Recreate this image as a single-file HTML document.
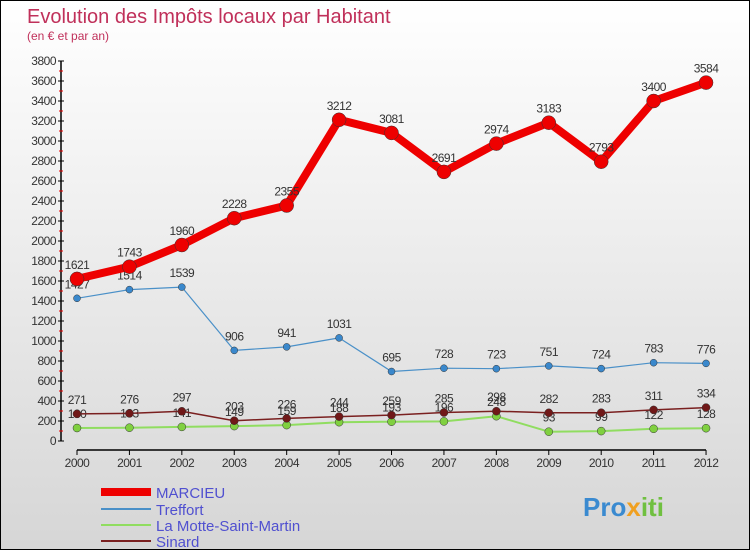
<!DOCTYPE html>
<html><head><meta charset="utf-8"><style>
body{margin:0}
#c{width:748px;height:548px;border:1px solid #000;background:linear-gradient(#fff,#d6d6d6);position:relative;font-family:"Liberation Sans",sans-serif;overflow:hidden}
</style></head><body>
<div id="c">
<svg id="s" width="748" height="548" xmlns="http://www.w3.org/2000/svg">
<text x="26" y="22" font-size="20" fill="#c0305a">Evolution des Impôts locaux par Habitant</text>
<text x="26" y="39" font-size="12" fill="#c0305a">(en € et par an)</text>
<g id="axes"></g><g id="series"></g>
<g>
<line x1="100" y1="491" x2="150" y2="491" stroke="#e00" stroke-width="8"/>
<text x="155" y="497" font-size="15" fill="#5050d0">MARCIEU</text>
<line x1="100" y1="508" x2="150" y2="508" stroke="#4a90c8" stroke-width="2"/>
<text x="155" y="514" font-size="15" fill="#5050d0">Treffort</text>
<line x1="100" y1="524" x2="150" y2="524" stroke="#90dd60" stroke-width="2"/>
<text x="155" y="530" font-size="15" fill="#5050d0">La Motte-Saint-Martin</text>
<line x1="100" y1="540" x2="150" y2="540" stroke="#7a2020" stroke-width="2"/>
<text x="155" y="546" font-size="15" fill="#5050d0">Sinard</text>
</g>
<text x="582" y="515" font-size="26" font-weight="bold" fill="#3a8ad0">Pro<tspan fill="#f0a020">x</tspan><tspan fill="#70c040">iti</tspan></text>
</svg></div>
<script>
const years=[2000,2001,2002,2003,2004,2005,2006,2007,2008,2009,2010,2011,2012];
const marcieu=[1621,1743,1960,2228,2355,3212,3081,2691,2974,3183,2793,3400,3584];
const treffort=[1427,1514,1539,906,941,1031,695,728,723,751,724,783,776];
const motte=[130,133,141,149,159,188,193,196,248,93,99,122,128];
const sinard=[271,276,297,203,226,244,259,285,298,282,283,311,334];
const yTicks=[0,200,400,600,800,1000,1200,1400,1600,1800,2000,2200,2400,2600,2800,3000,3200,3400,3600,3800];
const NS="http://www.w3.org/2000/svg";
const X=i=>76+i*52.42, Y=v=>440-v*0.1;
function mk(t,a,p){const e=document.createElementNS(NS,t);for(const k in a)e.setAttribute(k,a[k]);p.appendChild(e);return e;}
const ax=document.getElementById('axes');
let l=mk('line',{x1:60,y1:60,x2:60,y2:440,stroke:'#000','stroke-width':1.5},ax);


l=mk('line',{x1:76,y1:449,x2:705,y2:449,stroke:'#000','stroke-width':1.5},ax);


yTicks.forEach(v=>{
 mk('line',{x1:57,x2:63,y1:Y(v),y2:Y(v),stroke:'#000'},ax);
 if(v<3800) mk('line',{x1:58,x2:62,y1:Y(v+100),y2:Y(v+100),stroke:'#e00'},ax);
 const t=mk('text',{x:55,y:Y(v)+4,'font-size':12,fill:'#333','text-anchor':'end','letter-spacing':'-0.5'},ax);t.textContent=v;
 
 
});
years.forEach((y,i)=>{
 mk('line',{x1:X(i),x2:X(i),y1:449,y2:454,stroke:'#000'},ax);
 const t=mk('text',{x:X(i),y:466,'font-size':12,fill:'#333','text-anchor':'middle','letter-spacing':'-0.5'},ax);t.textContent=y;
 
 
});
const sg=document.getElementById('series');
function draw(d,name,col,w,r,dot){
 const g=mk('g',{},sg);
 
 
 const p=mk('polyline',{points:d.map((v,i)=>X(i)+','+Y(v)).join(' '),fill:'none',stroke:col,'stroke-width':w,'stroke-linejoin':'round'},g);
 
 
 d.forEach((v,i)=>{
  const c=mk('circle',{cx:X(i),cy:Y(v),r:r,fill:dot,stroke:'#333','stroke-width':0.5},g);
  
  
  const t=mk('text',{x:X(i),y:Y(v)-10,'font-size':12,fill:'#333','text-anchor':'middle','letter-spacing':'-0.5'},g);t.textContent=v;
  
  
 });
}
draw(motte,'motte','#90dd60',2,4,'#80d040');
draw(sinard,'sinard','#7a2020',1.5,4,'#701818');
draw(treffort,'treffort','#4a90c8',1.2,3.5,'#3a88cc');
draw(marcieu,'marcieu','#e00',8,7,'#e00');
</script>
</body></html>
